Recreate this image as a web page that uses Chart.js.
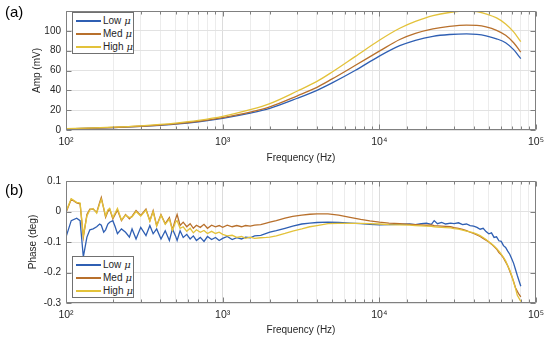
<!DOCTYPE html>
<html><head><meta charset="utf-8">
<script src="https://cdn.jsdelivr.net/npm/chart.js@4"></script>
<style>
body{margin:0;background:#fff;width:550px;height:341px;position:relative;overflow:hidden;font-family:"Liberation Sans",Arial,sans-serif;}
canvas{position:absolute;left:0;}
#c1{top:0;}
#c2{top:170px;}
.pl{position:absolute;font-size:15px;color:#000;line-height:15px;}
.leg{position:absolute;background:#fff;border:1px solid #707070;box-sizing:border-box;padding:1px 0 0 3px;}
.row{height:13px;display:flex;align-items:center;font-size:10px;color:#262626;white-space:nowrap;}
.sw{width:25px;height:2px;margin-right:2px;}
.row i{font-family:"DejaVu Serif","Liberation Serif",serif;font-size:10px;margin-left:3px;}
</style></head>
<body>
<canvas id="c1" width="550" height="170"></canvas>
<canvas id="c2" width="550" height="171"></canvas>
<div class="pl" style="left:5px;top:4px;">(a)</div>
<div class="pl" style="left:5px;top:182px;">(b)</div>
<div class="leg" style="left:72px;top:12px;width:62px;height:42px;">
  <div class="row"><span class="sw" style="background:#2f5fb3"></span>Low<i>μ</i></div>
  <div class="row"><span class="sw" style="background:#b8702c"></span>Med<i>μ</i></div>
  <div class="row"><span class="sw" style="background:#e3c23a"></span>High<i>μ</i></div>
</div>
<div class="leg" style="left:72px;top:256px;width:62px;height:42px;">
  <div class="row"><span class="sw" style="background:#2f5fb3"></span>Low<i>μ</i></div>
  <div class="row"><span class="sw" style="background:#b8702c"></span>Med<i>μ</i></div>
  <div class="row"><span class="sw" style="background:#e3c23a"></span>High<i>μ</i></div>
</div>
<script>
// ---- Data ----
const seriesNames = ['Low μ', 'Med μ', 'High μ'];
const ampFreq = [100,150,200,300,400,500,700,1000,1500,2000,3000,4000,5000,7000,10000,13500,17000,22000,28000,36000,42000,48000,56000,64000,72000,80000];
const ampLow  = [1.2,1.8,2.4,3.6,4.8,5.9,8.3,11.8,17,21.8,32,40,47.5,60,74.5,85,90.5,94.5,96.3,97,96.5,95,92,88,81,72];
const ampMed  = [1.25,1.9,2.5,3.8,5.0,6.2,8.7,12.5,18,23.3,34.5,43,51.5,65,79.5,91.3,97.5,102,104.5,105.8,105.5,104,100.5,95.5,88,78.5];
const ampHigh = [1.4,2.1,2.8,4.2,5.6,7.0,9.8,13.8,20.5,26.6,39.3,49,58.5,74,90.5,102.6,109.5,115.4,118.5,120,119.5,117,113,107,99,89];

const phaseFreq = [100,108,117,123,129,136,142,149,157,164,
 168,174,179,185,190,199,206,213,226,240,
 254,264,280,300,324,343,360,379,404,430,
 457,478,500,512,535,560,590,620,650,680,
 720,760,800,850,900,950,1000,1070,1150,1230,
 1320,1400,1500,1600,1750,1900,2000,2200,2500,2800,
 3200,3600,4000,4700,5500,6500,7600,8700,10000,11500,
 13500,15600,17000,18500,20000,21500,22400,23500,25000,26500,
 28500,30000,32000,34000,36000,38000,40000,42000,44000,46000,
 48000,50000,52000,54000,56000,58000,60000,62000,64000,66000,
 68000,70000,72000,74000,76000,78000,80000];
const phaseLow = [-0.084,-0.030,-0.022,-0.030,-0.149,-0.084,-0.060,-0.057,-0.050,-0.041,
 -0.045,-0.068,-0.060,-0.041,-0.035,-0.030,-0.050,-0.073,-0.057,-0.068,
 -0.084,-0.057,-0.090,-0.052,-0.079,-0.046,-0.073,-0.057,-0.090,-0.063,
 -0.095,-0.057,-0.080,-0.095,-0.063,-0.085,-0.075,-0.090,-0.080,-0.095,
 -0.085,-0.098,-0.082,-0.092,-0.085,-0.095,-0.088,-0.082,-0.092,-0.086,
 -0.090,-0.084,-0.086,-0.080,-0.078,-0.072,-0.068,-0.063,-0.055,-0.048,
 -0.041,-0.038,-0.036,-0.035,-0.036,-0.038,-0.040,-0.042,-0.044,-0.043,
 -0.042,-0.041,-0.043,-0.040,-0.038,-0.042,-0.030,-0.040,-0.036,-0.041,
 -0.038,-0.040,-0.037,-0.043,-0.041,-0.046,-0.048,-0.052,-0.058,-0.055,
 -0.066,-0.073,-0.070,-0.085,-0.083,-0.096,-0.098,-0.112,-0.118,-0.130,
 -0.140,-0.155,-0.170,-0.190,-0.210,-0.228,-0.245];
const phaseMed = [-0.003,0.040,0.028,0.025,-0.084,-0.010,0.008,0.008,-0.003,0.030,
 0.046,0.010,-0.019,0.000,0.008,-0.024,-0.010,0.005,-0.030,-0.010,
 -0.024,-0.015,0.003,-0.013,0.008,-0.030,0.003,-0.046,-0.010,-0.040,
 -0.020,-0.060,-0.025,-0.010,-0.046,-0.035,-0.050,-0.040,-0.055,-0.045,
 -0.052,-0.042,-0.055,-0.045,-0.050,-0.046,-0.052,-0.045,-0.050,-0.046,
 -0.050,-0.046,-0.048,-0.045,-0.043,-0.038,-0.035,-0.030,-0.022,-0.016,
 -0.012,-0.009,-0.008,-0.008,-0.012,-0.019,-0.026,-0.031,-0.035,-0.038,
 -0.040,-0.042,-0.043,-0.044,-0.045,-0.044,-0.046,-0.047,-0.048,-0.049,
 -0.050,-0.053,-0.055,-0.059,-0.063,-0.068,-0.072,-0.077,-0.082,-0.088,
 -0.094,-0.100,-0.107,-0.115,-0.123,-0.135,-0.142,-0.152,-0.165,-0.178,
 -0.195,-0.212,-0.230,-0.250,-0.262,-0.272,-0.280];
const phaseHigh = [0.000,0.042,0.030,0.028,-0.080,-0.015,0.005,0.010,-0.005,0.025,
 0.040,0.012,-0.015,0.005,0.010,-0.020,-0.005,0.010,-0.028,-0.012,
 -0.020,-0.018,0.000,-0.015,0.005,-0.032,0.000,-0.048,-0.012,-0.042,
 -0.025,-0.062,-0.035,-0.030,-0.055,-0.050,-0.065,-0.055,-0.070,-0.060,
 -0.068,-0.062,-0.072,-0.065,-0.072,-0.068,-0.075,-0.080,-0.078,-0.085,
 -0.082,-0.088,-0.084,-0.088,-0.086,-0.085,-0.084,-0.080,-0.072,-0.064,
 -0.057,-0.050,-0.046,-0.040,-0.039,-0.039,-0.039,-0.040,-0.041,-0.043,
 -0.044,-0.045,-0.046,-0.047,-0.048,-0.049,-0.050,-0.051,-0.052,-0.053,
 -0.054,-0.056,-0.058,-0.061,-0.064,-0.067,-0.070,-0.074,-0.079,-0.085,
 -0.092,-0.099,-0.106,-0.113,-0.121,-0.130,-0.140,-0.150,-0.162,-0.178,
 -0.192,-0.210,-0.232,-0.252,-0.275,-0.285,-0.295];

const ampTicks = [0,20,40,60,80,100];
const phaseTicks = [0.1,0,-0.1,-0.2,-0.3];
const colors = ['#2f5fb3','#b8702c','#e3c23a'];

// ---- Helpers ----
const FONT = '"Liberation Sans", Arial, sans-serif';
const TXT = '#262626';
const sup = {2:'²',3:'³',4:'⁴',5:'⁵'};
function isPow10(v){ const e=Math.log10(v); return Math.abs(e-Math.round(e))<1e-9; }
function xLabel(v){ if(!isPow10(v)) return ''; return '10'+sup[Math.round(Math.log10(v))]; }

const boxPlugin = {
  id:'box',
  afterDraw(chart){
    const {ctx, chartArea:a, scales:{x,y}} = chart;
    ctx.save();
    ctx.strokeStyle = '#808080'; ctx.lineWidth = 1;
    const L=Math.round(a.left)+0.5, R=Math.round(a.right)-0.5, T=Math.round(a.top)+0.5, B=Math.round(a.bottom)-0.5;
    ctx.beginPath();
    ctx.rect(L,T,R-L,B-T);
    x.ticks.forEach(t=>{
      const px=Math.round(x.getPixelForValue(t.value))+0.5;
      const len=isPow10(t.value)?5:3;
      ctx.moveTo(px,B); ctx.lineTo(px,B-len);
      ctx.moveTo(px,T); ctx.lineTo(px,T+len);
    });
    y.ticks.forEach(t=>{
      const py=Math.round(y.getPixelForValue(t.value))+0.5;
      ctx.moveTo(L,py); ctx.lineTo(L+5,py);
      ctx.moveTo(R,py); ctx.lineTo(R-5,py);
    });
    ctx.stroke();
    ctx.restore();
  }
};

function xScale(h, tickPad, titlePadBottom){
  return {
    type:'logarithmic', min:100, max:100000,
    afterFit(s){ s.height=h; },
    ticks:{ autoSkip:false, maxRotation:0, minRotation:0, padding:tickPad, color:TXT, font:{family:FONT,size:10.5}, callback:(v)=>xLabel(v) },
    grid:{ drawTicks:false, color:(c)=> (c.tick && isPow10(c.tick.value)) ? '#dcdcdc' : '#ececec', lineWidth:1 },
    border:{display:false},
    title:{ display:true, text:'Frequency (Hz)', color:TXT, font:{family:FONT,size:10}, padding:{top:0,bottom:titlePadBottom} }
  };
}

function makeSets(freq, arrs, width, smooth){
  return arrs.map((arr,i)=>({
    label: seriesNames[i],
    data: freq.map((f,j)=>({x:f,y:arr[j]})),
    borderColor: colors[i], borderWidth: width,
    pointRadius:0, fill:false,
    cubicInterpolationMode: smooth ? 'monotone' : 'default',
    tension: 0,
    order: 3-i
  }));
}

Chart.defaults.animation = false;

new Chart(document.getElementById('c1'), {
  type:'line',
  data:{ datasets: makeSets(ampFreq, [ampLow, ampMed, ampHigh], 1.3, true) },
  options:{
    responsive:false, animation:false,
    layout:{ padding:{left:27, right:10, top:5, bottom:0} },
    plugins:{ legend:{display:false}, tooltip:{enabled:false} },
    scales:{
      x: xScale(40, 6, 6),
      y: {
        type:'linear', min:0, max:120,
        afterFit(s){ s.width=39; },
        afterBuildTicks(s){ s.ticks = ampTicks.concat([120]).map(v=>({value:v})); },
        ticks:{ padding:5, color:TXT, font:{family:FONT,size:10}, callback:(v)=> v===120 ? '' : String(v) },
        grid:{ drawTicks:false, color:'#e2e2e2' },
        border:{display:false},
        title:{ display:true, text:'Amp (mV)', color:TXT, font:{family:FONT,size:10}, padding:{top:4,bottom:0} }
      }
    }
  },
  plugins:[boxPlugin]
});

new Chart(document.getElementById('c2'), {
  type:'line',
  data:{ datasets: makeSets(phaseFreq, [phaseLow, phaseMed, phaseHigh], 1.3, false) },
  options:{
    responsive:false, animation:false,
    layout:{ padding:{left:23, right:10, top:10, bottom:0} },
    plugins:{ legend:{display:false}, tooltip:{enabled:false} },
    scales:{
      x: xScale(38, 6, 5),
      y: {
        type:'linear', min:-0.3, max:0.1,
        afterFit(s){ s.width=43; },
        afterBuildTicks(s){ s.ticks = phaseTicks.map(v=>({value:v})); },
        ticks:{ padding:5, color:TXT, font:{family:FONT,size:10}, callback:(v)=> String(Math.round(v*10)/10) },
        grid:{ drawTicks:false, color:'#e2e2e2' },
        border:{display:false},
        title:{ display:true, text:'Phase (deg)', color:TXT, font:{family:FONT,size:10}, padding:{top:4,bottom:0} }
      }
    }
  },
  plugins:[boxPlugin]
});
</script>
</body></html>
